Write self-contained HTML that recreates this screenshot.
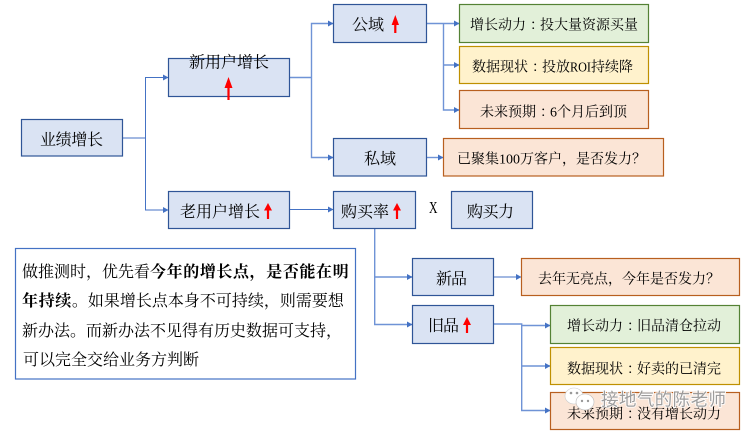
<!DOCTYPE html>
<html><head><meta charset="utf-8">
<style>
html,body{margin:0;padding:0;background:#fff;width:749px;height:433px;overflow:hidden}
svg{display:block}
text{font-family:"Liberation Serif","Noto Serif CJK SC",serif;font-size:16px;fill:#000}
text.s{font-size:14px}
.b{fill:#dae3f3;stroke:#2f5597;stroke-width:1.2}
.g{fill:#e2f0d9;stroke:#548235;stroke-width:1.2}
.y{fill:#fff2cc;stroke:#bf9000;stroke-width:1.2}
.o{fill:#fbe5d6;stroke:#b85f1f;stroke-width:1.2}
.l{fill:none;stroke:#4472c4;stroke-width:1}
.l2{fill:none;stroke:#6f93d6;stroke-width:1.4}
.h{fill:#4472c4}
.r{fill:#f00}
</style></head><body>
<svg width="749" height="433" viewBox="0 0 749 433" xmlns="http://www.w3.org/2000/svg">
<!-- connectors -->
<path class="l" d="M122.5 138H145.5M168 77.5H145.5V210H168"/>
<path class="l2" d="M290 77.5H311.5M333 23.5H311.5V157.5H333"/>
<path class="l2" d="M427 23.5H443.5M459 23.5H443.5V110H459M443.5 65H459"/>
<path class="l2" d="M427 157.5H443"/>
<path class="l" d="M290 209.5H333"/>
<path class="l2" d="M374.7 229V324.5H412M374.7 277H412"/>
<path class="l" d="M494 277H521"/>
<path class="l2" d="M494 324H521.7V410.5H550M521.7 325.5H550M521.7 366H550"/>
<!-- arrowheads -->
<g class="h">
<path d="M163 74.5L168.5 77.5L163 80.5Z"/><path d="M163 207L168.5 210L163 213Z"/>
<path d="M328 20.5L333.5 23.5L328 26.5Z"/><path d="M328 154.5L333.5 157.5L328 160.5Z"/>
<path d="M328 206.5L333.5 209.5L328 212.5Z"/>
<path d="M454 20.5L459.5 23.5L454 26.5Z"/><path d="M454 62L459.5 65L454 68Z"/><path d="M454 107L459.5 110L454 113Z"/>
<path d="M438 154.5L443.5 157.5L438 160.5Z"/>
<path d="M407 274L412.5 277L407 280Z"/><path d="M407 321.5L412.5 324.5L407 327.5Z"/>
<path d="M516 274L521.5 277L516 280Z"/>
<path d="M545 322.5L550.5 325.5L545 328.5Z"/><path d="M545 363L550.5 366L545 369Z"/><path d="M545 407.5L550.5 410.5L545 413.5Z"/>
</g>
<!-- boxes -->
<rect class="b" x="21.5" y="119.5" width="101" height="36.5"/>
<rect class="b" x="168.5" y="58.5" width="121" height="38"/>
<rect class="b" x="168.5" y="191.5" width="121" height="37"/>
<rect class="b" x="333.5" y="4.5" width="93" height="38"/>
<rect class="b" x="333.5" y="138.5" width="93" height="37.5"/>
<rect class="b" x="333.5" y="191.5" width="82" height="37"/>
<rect class="b" x="451.5" y="191.5" width="81" height="37"/>
<rect class="g" x="459.5" y="4.5" width="189" height="38"/>
<rect class="y" x="459.5" y="46.5" width="189" height="37"/>
<rect class="o" x="459.5" y="90.5" width="189" height="38"/>
<rect class="o" x="443.5" y="138.5" width="220" height="37.5"/>
<rect class="b" x="412.5" y="258.5" width="81" height="37"/>
<rect class="b" x="412.5" y="305.5" width="81" height="38"/>
<rect class="o" x="521.5" y="258.5" width="218" height="37"/>
<rect class="g" x="550.5" y="305.5" width="189" height="38"/>
<rect class="y" x="550.5" y="347.5" width="189" height="37"/>
<rect class="o" x="550.5" y="392.5" width="189" height="37"/>
<rect x="15.5" y="248.5" width="340" height="130.5" fill="#fff" stroke="#4472c4" stroke-width="1.2"/>
<!-- red arrows -->
<path class="r" d="M228.5 77L232.5 88H229.6V100H227.4V88H224.5Z"/>
<path class="r" d="M268 203L272 210.5H269.1V219H266.9V210.5H264Z"/>
<path class="r" d="M395.3 15L399 25H396.4V33H394.2V25H391.6Z"/>
<path class="r" d="M397 203L401 210.5H398.1V219H395.9V210.5H393Z"/>
<path class="r" d="M467 317L471 325H468.1V333H465.9V325H463Z"/>
<!-- labels -->
<text x="40" y="145" textLength="63">业绩增长</text>
<text x="189" y="67.5" textLength="80">新用户增长</text>
<text x="180" y="217" textLength="80">老用户增长</text>
<text x="352" y="30" textLength="32">公域</text>
<text x="364" y="164" textLength="32">私域</text>
<text x="341" y="217" textLength="48">购买率</text>
<text x="429" y="213" textLength="8.5" lengthAdjust="spacingAndGlyphs" style="font-size:17px">X</text>
<text x="467" y="217" textLength="47">购买力</text>
<text class="s" x="470" y="29.5">增长动力<tspan dx="4">：</tspan><tspan dx="-4">投大量资源买量</tspan></text>
<text class="s" x="472" y="71.5">数据现状<tspan dx="4">：</tspan><tspan dx="-4">投放</tspan></text>
<text class="s" x="570" y="71.5" textLength="21" lengthAdjust="spacingAndGlyphs">ROI</text>
<text class="s" x="591" y="71.5">持续降</text>
<text class="s" x="480" y="116.5">未来预期<tspan dx="4">：</tspan><tspan dx="-4">6个月后到顶</tspan></text>
<text class="s" x="457" y="163.5">已聚集100万客户，是否发力？</text>
<text x="436" y="284" textLength="31">新品</text>
<text x="428" y="331" textLength="31">旧品</text>
<text class="s" x="538" y="283.5">去年无亮点，今年是否发力？</text>
<text class="s" x="567" y="330.5">增长动力<tspan dx="4">：</tspan><tspan dx="-4">旧品清仓拉动</tspan></text>
<text class="s" x="567" y="373.5">数据现状<tspan dx="4">：</tspan><tspan dx="-4">好卖的已清完</tspan></text>
<text class="s" x="567" y="418.5">未来预期<tspan dx="4">：</tspan><tspan dx="-4">没有增长动力</tspan></text>
<!-- note -->
<text x="22" y="277">做推测时，优先看<tspan font-weight="700" letter-spacing=".6">今年的增长点，是否能在明</tspan></text>
<text x="22" y="306"><tspan font-weight="700" letter-spacing=".6">年持续</tspan>。如果增长点本身不可持续，则需要想</text>
<text x="22" y="336">新办法。而新办法不见得有历史数据可支持，</text>
<text x="23" y="365">可以完全交给业务方判断</text>
<!-- watermark -->
<g>
<ellipse cx="574" cy="396" rx="9" ry="8" fill="#fff" stroke="#ccc" stroke-width=".6"/>
<ellipse cx="585" cy="402" rx="9" ry="8" fill="#fff" stroke="#bbb" stroke-width=".6"/>
<circle cx="571" cy="393" r="1.3" fill="#999"/><circle cx="577" cy="393" r="1.3" fill="#999"/>
<circle cx="582" cy="401" r="1.2" fill="#999"/><circle cx="588" cy="401" r="1.2" fill="#999"/>
</g>
<text x="601" y="405.5" textLength="125" style="font-family:'Noto Sans CJK SC',sans-serif;font-size:17.5px;fill:#9a9a9a;stroke:#fff;stroke-width:1.8px;paint-order:stroke;opacity:.95">接地气的陈老师</text>
</svg>
</body></html>
